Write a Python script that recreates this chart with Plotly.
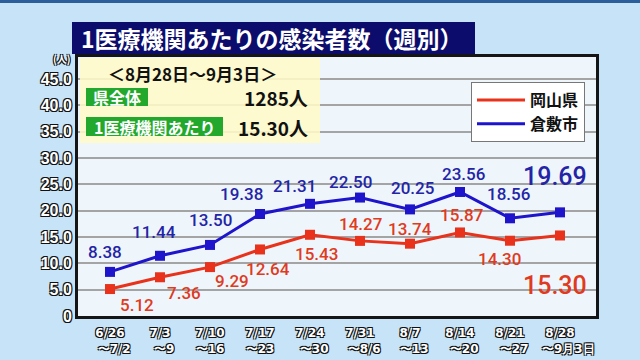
import plotly.graph_objects as go

categories = ["6/26<br>\u00a0\u00a0〜7/2", "7/3<br>\u00a0\u00a0〜9", "7/10<br>〜16", "7/17<br>〜23",
              "7/24<br>\u00a0\u00a0〜30", "7/31<br>\u00a0\u00a0〜8/6", "8/7<br>\u00a0\u00a0〜13",
              "8/14<br>\u00a0\u00a0〜20", "8/21<br>\u00a0\u00a0〜27", "8/28<br>\u00a0\u00a0\u00a0\u00a0〜9月3日"]
okayama = [5.12, 7.36, 9.29, 12.64, 15.43, 14.27, 13.74, 15.87, 14.30, 15.30]
kurashiki = [8.38, 11.44, 13.50, 19.38, 21.31, 22.50, 20.25, 23.56, 18.56, 19.69]
ytick_vals = [0, 5, 10, 15, 20, 25, 30, 35, 40, 45]
ytick_text = ["0", "5.0", "10.0", "15.0", "20.0", "25.0", "30.0", "35.0", "40.0", "45.0"]

# label offsets (pixels, dx, dy downward) relative to each point
blue_off = [(-5, -20), (-6, -24), (0, -25), (-19, -20), (-16, -18), (-10, -16), (2, -21), (3, -18), (-2, -24), (-5, -36)]
red_off = [(27, 16), (24, 16), (22, 14), (8, 20), (6, 19), (0, -17), (0, -15), (1, -17), (-11, 18), (-5, 50)]

RED = "#e8321c"
BLUE = "#1e14cc"
RED_T = "#e03a20"
BLUE_T = "#2424a6"
JP = "Noto Sans CJK JP"
OUT = "1px 1px 0 #111, -1px -1px 0 #111, 1px -1px 0 #111, -1px 1px 0 #111"

L, R, T, B = 78, 44, 57, 44
W, H = 640, 360
PW, PH = W - L - R, H - T - B


def px(x):
    return (x - L) / PW


def py(y):
    return (H - B - y) / PH


xs = list(range(len(categories)))
fig = go.Figure()
fig.add_trace(go.Scatter(x=xs, y=okayama, mode="lines+markers", showlegend=False,
                         line=dict(color=RED, width=3), marker=dict(symbol="square", size=10, color=RED)))
fig.add_trace(go.Scatter(x=xs, y=kurashiki, mode="lines+markers", showlegend=False,
                         line=dict(color=BLUE, width=3), marker=dict(symbol="square", size=10, color=BLUE)))
fig.add_trace(go.Scatter(x=[None], y=[None], mode="lines", name="岡山県", line=dict(color=RED, width=3)))
fig.add_trace(go.Scatter(x=[None], y=[None], mode="lines", name="倉敷市", line=dict(color=BLUE, width=3)))

ann = []
for i, v in enumerate(kurashiki):
    big = i == len(kurashiki) - 1
    dx, dy = blue_off[i]
    ann.append(dict(x=i, y=v, xref="x", yref="y", text=f"{v:.2f}", showarrow=False,
                    xanchor="center", yanchor="middle", xshift=dx, yshift=-dy,
                    font=dict(family="Roboto", size=25 if big else 17, color=BLUE_T, weight=500)))
for i, v in enumerate(okayama):
    big = i == len(okayama) - 1
    dx, dy = red_off[i]
    ann.append(dict(x=i, y=v, xref="x", yref="y", text=f"{v:.2f}", showarrow=False,
                    xanchor="center", yanchor="middle", xshift=dx, yshift=-dy,
                    font=dict(family="Roboto", size=25 if big else 17, color=RED_T, weight=500)))


def label(x, y, text, size, color, anchor="center", **kw):
    ann.append(dict(x=px(x), y=py(y), xref="paper", yref="paper", text=text, showarrow=False,
                    xanchor=anchor, yanchor="middle",
                    font=dict(family=JP, size=size, color=color, weight="bold", **kw)))


label(272, 38, "1医療機関あたりの感染者数（週別）", 23, "white")
label(62, 58, "(人)", 10, "white", shadow=OUT)
label(192, 73, "＜8月28日〜9月3日＞", 17, "#111")
label(117, 97, "県全体", 16, "white")
label(154, 127, "1医療機関あたり", 16, "white")
label(310, 97, "1285人", 19, "#111", anchor="right")
label(310, 127, "15.30人", 19, "#111", anchor="right")

shapes = [
    dict(type="rect", xref="paper", yref="paper", x0=px(0), x1=px(640), y0=py(3), y1=py(0),
         fillcolor="#2c5e9c", line_width=0, layer="above"),
    dict(type="rect", xref="paper", yref="paper", x0=px(72), x1=px(475), y0=py(54), y1=py(22),
         fillcolor="#0c0c6c", line_width=0, layer="above"),
    dict(type="rect", xref="paper", yref="paper", x0=px(80), x1=px(320), y0=py(143), y1=py(58),
         fillcolor="rgba(255,250,200,0.88)", line_width=0, layer="above"),
    dict(type="rect", xref="paper", yref="paper", x0=px(86), x1=px(148), y0=py(106), y1=py(88),
         fillcolor="#22a82c", line_width=0, layer="above"),
    dict(type="rect", xref="paper", yref="paper", x0=px(86), x1=px(223), y0=py(136), y1=py(117),
         fillcolor="#22a82c", line_width=0, layer="above"),
]

fig.update_layout(
    width=W, height=H,
    margin=dict(l=L, r=R, t=T, b=B, autoexpand=False),
    paper_bgcolor="#c6e3f8",
    plot_bgcolor="#eef6fc",
    annotations=ann,
    shapes=shapes,
    legend=dict(x=px(471), y=py(82), xanchor="left", yanchor="top", bgcolor="white",
                bordercolor="#777", borderwidth=1, font=dict(family=JP, size=16, color="#111", weight="bold"),
                tracegroupgap=0, itemwidth=48),
    xaxis=dict(range=[-0.64, 9.72], tickmode="array", tickvals=xs, ticktext=categories,
               showgrid=False, zeroline=False, showline=True, linecolor="#151515", linewidth=3, mirror=True,
               ticks="", ticklabelstandoff=4, tickangle=0, automargin=False,
               tickfont=dict(family="DejaVu Sans", size=12, color="white", weight="bold", shadow=OUT)),
    yaxis=dict(range=[0, 49.2], tickmode="array", tickvals=ytick_vals, ticktext=ytick_text,
               showgrid=True, gridcolor="#a4a4a4", gridwidth=1.5, zeroline=False, automargin=False,
               showline=True, linecolor="#151515", linewidth=3, mirror=True, ticks="",
               tickfont=dict(family="Liberation Sans", size=16, color="white", weight="bold", shadow=OUT)),
)

fig.write_html("out.html", config={"displayModeBar": False},
               post_script="document.body.style.margin='0';")
